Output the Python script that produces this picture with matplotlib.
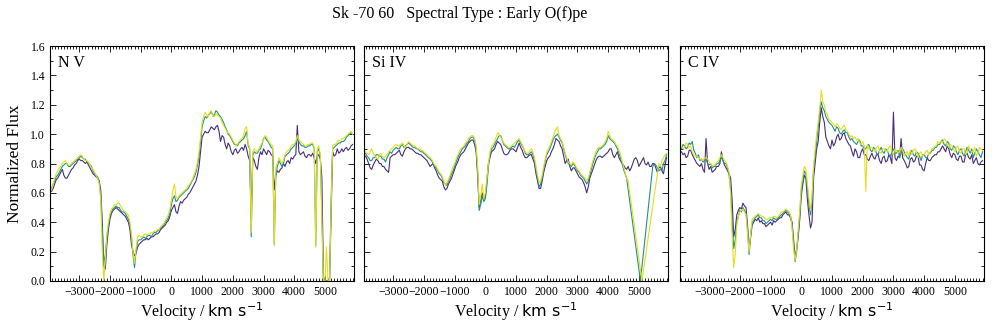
#!/usr/bin/env python3
""" Sk -70 60 UV wind line profiles (N V, Si IV, C IV) in velocity space """
import numpy as np
import matplotlib
matplotlib.use("Agg")
import matplotlib.pyplot as plt
from matplotlib.ticker import MultipleLocator

nan = float("nan")

# velocity grid (km/s), 50 km/s steps, shared by every panel
velocity = list(range(-3900, 5950, 50))

lines = ["N V", "Si IV", "C IV"]
colors = ["#46307c", "#21918c", "#e2df1e"]

# ---- N V ----
nv_purple = [
    .61, .63, .66, .69, .70, .72, .74, .76, .72, .70,
    .70, .72, .74, .76, .77, .79, .80, .82, .83, .82,
    .82, .81, .80, .81, .79, .77, .75, .73, .72, .71,
    .70, .68, .62, .40, .10, .08, .25, .35, .42, .46,
    .48, .49, .50, .49, .48, .47, .46, .45, .44, .42,
    .40, .35, .25, .20, .17, .19, .23, .25, .26, .27,
    .28, .28, .29, .28, .29, .30, .30, .31, .32, .32,
    .33, .35, .36, .37, .38, .40, .41, .44, .48, .50,
    .52, .47, .46, .51, .54, .53, .55, .56, .57, .59,
    .60, .62, .64, .66, .68, .72, .78, .88, .98, 1.00,
    1.02, 1.01, 1.01, 1.03, 1.05, 1.04, 1.03, 1.05, 1.06, 1.02,
    .95, .99, .98, .93, .90, .94, .92, .88, .86, .89,
    .90, .87, .88, .90, .91, .89, .93, .90, .85, .82,
    .45, .84, .82, .78, .76, .84, .88, .86, .90, .88,
    .86, .89, .88, .86, .85, .62, .72, .75, .74, .76,
    .77, .80, .78, .81, .82, .80, .84, .83, .85, .86,
    1.06, .88, .86, .87, .88, .85, .84, .86, .86, .85,
    .87, .84, .80, .85, .86, .83, .70, .03, .00, .00,
    .00, .00, .45, .88, .85, .86, .90, .87, .88, .90,
    .88, .90, .91, .89, .90, .92, .93]
nv_teal = [
    .63, .66, .68, .71, .72, .74, .76, .78, .79, .80,
    .80, .78, .78, .79, .80, .81, .82, .83, .84, .85,
    .84, .83, .83, .81, .80, .79, .78, .75, .73, .72,
    .71, .68, .58, .35, .12, .18, .30, .38, .44, .47,
    .49, .50, .51, .50, .50, .48, .47, .47, .46, .44,
    .42, .38, .30, .18, .09, .20, .27, .28, .28, .29,
    .30, .29, .30, .31, .31, .30, .32, .33, .33, .34,
    .35, .36, .37, .38, .40, .41, .43, .46, .52, .56,
    .58, .54, .55, .57, .58, .59, .60, .61, .62, .63,
    .65, .67, .69, .71, .74, .79, .85, .95, 1.05, 1.09,
    1.12, 1.11, 1.13, 1.14, 1.15, 1.13, 1.13, 1.16, 1.15, 1.13,
    1.12, 1.10, 1.08, 1.05, 1.03, 1.00, .99, .97, .95, .93,
    .93, .92, .94, .95, .96, .97, .99, 1.02, .92, .90,
    .30, .86, .88, .87, .87, .89, .90, .93, .97, .98,
    .96, .95, .93, .91, .90, .25, .72, .78, .82, .80,
    .78, .80, .85, .86, .87, .88, .90, .91, .92, .94,
    .97, .95, .93, .92, .92, .91, .91, .92, .92, .93,
    .93, .90, .24, .88, .90, .85, .45, .00, .00, .00,
    .00, .02, .55, .90, .91, .92, .93, .94, .94, .95,
    .95, .96, .98, .99, 1.00, 1.01, 1.00]
nv_yellow = [
    .62, .66, .70, .73, .75, .77, .78, .80, .81, .82,
    .80, .79, .79, .80, .81, .82, .83, .84, .85, .86,
    .85, .83, .82, .82, .81, .79, .77, .76, .74, .72,
    .70, .66, .55, .20, .00, .15, .32, .40, .46, .49,
    .50, .52, .52, .53, .53, .51, .49, .48, .47, .46,
    .45, .40, .32, .20, .12, .22, .30, .31, .30, .30,
    .31, .32, .31, .32, .32, .33, .33, .34, .34, .35,
    .35, .37, .38, .39, .41, .43, .45, .49, .55, .62,
    .66, .57, .56, .58, .59, .60, .61, .62, .63, .65,
    .66, .68, .70, .73, .76, .81, .88, .98, 1.08, 1.12,
    1.15, 1.13, 1.12, 1.15, 1.16, 1.12, 1.12, 1.14, 1.13, 1.12,
    1.11, 1.08, 1.06, 1.04, 1.02, 1.01, 1.00, .98, .96, .94,
    .92, .93, .95, .96, .97, .99, 1.04, 1.05, .93, .91,
    .33, .88, .90, .89, .88, .90, .92, .94, .96, .99,
    .98, .96, .94, .93, .92, .24, .78, .80, .84, .82,
    .80, .82, .86, .88, .89, .90, .92, .93, .93, .95,
    .99, .96, .95, .94, .93, .92, .92, .93, .93, .94,
    .94, .91, .23, .90, .92, .86, .40, .00, .00, .23,
    .00, .00, .50, .92, .93, .93, .95, .96, .95, .97,
    .97, .98, .99, 1.00, 1.01, 1.02, 1.00]

# ---- Si IV ---- (nan = no data, the line jumps across the gap)
siiv_purple = [
    .85, .83, .80, .77, .76, .79, .81, .83, .82, .80,
    .80, .78, .78, .76, .75, .74, .84, .85, .86, .86,
    .87, .88, .89, .86, .85, .88, .90, .91, .91, .90,
    .90, .89, .88, .87, .87, .86, .86, .85, .84, .83,
    .82, .80, .78, .79, .80, .77, .75, .72, .70, .69,
    .68, .64, .62, .63, .66, .68, .70, .73, .76, .79,
    .81, .84, .86, .87, .88, .90, .92, .94, .95, .96,
    .96, .93, .88, .72, .50, .55, .60, .56, .57, .68,
    .80, .84, .88, .89, .90, .93, .95, .94, .93, .90,
    .87, .86, .86, .87, .89, .90, .90, .89, .88, .91,
    .94, .91, .89, .86, .84, .84, .85, .86, .86, .83,
    .80, .73, .68, .63, .63, .68, .74, .78, .82, .84,
    .85, .88, .90, .93, .97, .96, .95, .92, .90, .85,
    .80, .82, .83, .78, .75, .77, .77, .75, .73, .71,
    .70, .69, .67, .64, .60, .64, .70, .73, .76, .79,
    .82, .84, .85, .85, .84, .85, .86, .87, .88, .90,
    .90, .86, .84, .86, .88, .84, .82, .80, .79, .77,
    .76, .78, .75, .77, .80, .83, .84, .82, .78, .80,
    .82, .84, .80, .79, .81, .78, .78, .80, .80, .77,
    .74, .77, .78, .75, .73, .79, .84]
siiv_teal = [
    .87, .85, .84, .82, .82, .84, .84, .86, .86, .85,
    .85, .83, .83, .81, .84, .86, .88, .87, .89, .90,
    .91, .90, .90, .92, .93, .91, .92, .93, .94, .93,
    .92, .91, .91, .90, .90, .89, .88, .88, .87, .86,
    .85, .84, .83, .82, .80, .78, .77, .75, .73, .72,
    .70, .67, .66, .65, .68, .70, .73, .75, .78, .81,
    .84, .86, .88, .90, .91, .92, .94, .95, .97, .98,
    .98, .96, .90, .75, .48, .52, .58, .54, .56, .65,
    .78, .85, .90, .91, .93, .95, .97, .99, .99, .96,
    .93, .92, .91, .90, .90, .91, .92, .91, .93, .95,
    .96, .94, .92, .90, .87, .86, .86, .87, .88, .86,
    .82, .76, .70, .64, .66, .70, .76, .82, .86, .88,
    .90, .93, .96, .98, .99, 1.00, .98, .96, .94, .90,
    .86, .83, .80, .79, .78, .80, .79, .77, .75, .74,
    .72, .71, .70, .68, .66, .68, .72, .76, .80, .83,
    .86, .88, .90, .90, .91, .92, .93, .95, .99, .97,
    .96, .95, .94, .92, .90, .87, .84, .80, .76, .73,
    .70, nan, nan, nan, nan, nan, nan, nan, nan, .00,
    nan, nan, nan, nan, nan, nan, nan, .78, .80, .79,
    .77, .75, .76, .75, .80, .82, .86]
siiv_yellow = [
    .88, .87, .86, .88, .90, .87, .85, .84, .83, .86,
    .87, .85, .84, .85, .86, .88, .89, .90, .91, .92,
    .93, .92, .92, .93, .94, .92, .91, .93, .95, .94,
    .93, .92, .92, .91, .90, .90, .89, .89, .88, .87,
    .86, .85, .84, .83, .81, .79, .78, .76, .74, .73,
    .71, .68, .65, .67, .69, .72, .75, .78, .80, .83,
    .86, .88, .90, .91, .92, .94, .95, .97, .98, .99,
    .99, .97, .92, .78, .52, .58, .66, .56, .60, .70,
    .80, .88, .92, .93, .95, .98, 1.01, 1.00, .98, .96,
    .94, .93, .92, .91, .91, .92, .93, .94, .95, .96,
    .97, .95, .93, .90, .88, .87, .87, .89, .90, .88,
    .84, .78, .72, .67, .68, .72, .78, .83, .88, .90,
    .92, .95, .98, 1.01, 1.03, 1.05, .99, .97, .95, .91,
    .87, .84, .81, .80, .79, .81, .80, .78, .76, .75,
    .73, .72, .71, .70, .68, .70, .74, .78, .82, .85,
    .88, .90, .91, .91, .92, .93, .95, .97, 1.02, .99,
    .97, .96, .95, .93, .92, .89, .86, .82, .78, .74,
    .70, .68, nan, nan, nan, nan, nan, nan, nan, nan,
    .00, nan, nan, nan, nan, nan, nan, nan, nan, nan,
    nan, .80, .78, .82, .84, .86, .87]

# ---- C IV ----
civ_purple = [
    .88, .86, .87, .84, .85, .89, .89, .86, .84, .82,
    .80, .79, .78, .80, .76, .74, .97, .80, .76, .78,
    .74, .75, .76, .78, .78, .80, .88, .82, .79, .77,
    .75, .73, .70, .55, .30, .35, .45, .48, .50, .49,
    .53, .51, .50, .38, .22, .30, .38, .40, .42, .41,
    .43, .40, .41, .39, .39, .37, .38, .39, .40, .38,
    .41, .40, .41, .42, .43, .43, .45, .46, .47, .45,
    .45, .43, .40, .28, .16, .22, .30, .42, .58, .66,
    .72, .70, .55, .45, .36, .40, .70, .80, .90, .95,
    1.08, 1.18, 1.12, 1.08, .98, .95, .92, .90, .96, .92,
    .94, .98, 1.00, .96, .97, 1.00, 1.01, .97, .95, .93,
    .92, .88, .85, .90, .88, .84, .84, .88, .90, .86,
    .86, .83, .82, .85, .87, .84, .83, .86, .86, .82,
    .80, .84, .85, .81, .82, .86, .84, .80, 1.15, .84,
    .82, .85, .84, .97, .84, .82, .80, .77, .78, .83,
    .84, .81, .82, .85, .85, .79, .79, .76, .75, .80,
    .84, .82, .82, .84, .85, .86, .86, .88, .88, .90,
    .92, .90, .88, .92, .90, .86, .84, .87, .86, .83,
    .82, .85, .85, .81, .81, .86, .87, .84, .83, .86,
    .80, .82, .84, .80, .79, .81, .82]
civ_teal = [
    .90, .93, .92, .90, .91, .94, .93, .95, .89, .87,
    .84, .86, .82, .83, .81, .82, .83, .80, .79, .80,
    .77, .78, .78, .80, .80, .82, .84, .82, .80, .80,
    .77, .72, .62, .40, .22, .28, .40, .44, .48, .47,
    .50, .48, .46, .35, .18, .30, .40, .41, .43, .44,
    .45, .43, .43, .41, .41, .39, .40, .41, .42, .41,
    .43, .42, .42, .43, .44, .45, .46, .47, .48, .47,
    .46, .44, .38, .25, .13, .20, .32, .45, .62, .68,
    .75, .73, .62, .52, .45, .55, .76, .85, .95, 1.05,
    1.15, 1.22, 1.18, 1.16, 1.12, 1.10, 1.08, 1.07, 1.06, 1.04,
    1.02, 1.05, 1.04, 1.01, 1.00, 1.02, 1.03, 1.01, 1.01, .98,
    .96, .97, .95, .94, .93, .95, .96, .92, .92, .90,
    .90, .92, .93, .89, .88, .91, .90, .87, .86, .89,
    .91, .88, .87, .90, .89, .86, .85, .88, .90, .87,
    .87, .89, .84, .87, .90, .88, .86, .84, .83, .87,
    .89, .86, .85, .88, .87, .85, .82, .86, .86, .84,
    .84, .87, .87, .89, .89, .91, .91, .93, .93, .95,
    .96, .93, .92, .95, .94, .90, .89, .92, .91, .88,
    .86, .89, .90, .87, .85, .88, .91, .89, .87, .90,
    .84, .87, .90, .88, .86, .84, .88]
civ_yellow = [
    .92, .90, .91, .94, .93, .91, .92, .88, .86, .85,
    .85, .84, .83, .83, .82, .84, .84, .83, .81, .80,
    .78, .79, .79, .81, .82, .84, .86, .84, .82, .81,
    .78, .74, .58, .30, .09, .18, .38, .44, .47, .48,
    .49, .47, .45, .32, .20, .32, .42, .43, .44, .45,
    .46, .45, .44, .44, .43, .42, .42, .43, .43, .43,
    .44, .44, .43, .44, .45, .47, .47, .48, .49, .48,
    .47, .45, .36, .22, .14, .22, .35, .48, .65, .72,
    .78, .76, .66, .56, .48, .58, .78, .90, 1.00, 1.08,
    1.18, 1.30, 1.22, 1.20, 1.15, 1.13, 1.10, 1.09, 1.08, 1.07,
    1.05, 1.07, 1.06, 1.04, 1.03, 1.05, 1.06, 1.03, 1.02, 1.00,
    .98, .99, .97, .98, .96, .97, .94, .93, .95, .92,
    .61, .93, .90, .91, .91, .89, .88, .91, .92, .88,
    .87, .90, .90, .89, .88, .91, .92, .88, .86, .90,
    .89, .87, .88, .91, .89, .85, .87, .88, .85, .89,
    .86, .89, .90, .88, .84, .87, .88, .85, .86, .88,
    .89, .86, .88, .90, .90, .92, .92, .95, .94, .95,
    .94, .97, .96, .93, .91, .93, .92, .90, .88, .91,
    .92, .88, .87, .90, .90, .86, .88, .92, .89, .88,
    .88, .91, .85, .87, .91, .90, .89]

fluxes = [[nv_purple, nv_teal, nv_yellow],
          [siiv_purple, siiv_teal, siiv_yellow],
          [civ_purple, civ_teal, civ_yellow]]

serif = "Liberation Serif"
plt.rcParams["mathtext.fontset"] = "dejavusans"

fig = plt.figure(figsize=(9.97, 3.32), dpi=100)
lefts = [0.0502, 0.3651, 0.6820]
v = np.array(velocity)

for k, name in enumerate(lines):
    ax = fig.add_axes([lefts[k], 0.154, 0.305, 0.707])
    for flux, col in zip(fluxes[k], colors):
        f = np.array(flux, dtype=float)
        ok = ~np.isnan(f)   # gaps in the data are bridged by a straight line
        ax.plot(v[ok], f[ok], color=col, lw=0.8)
    ax.set_xlim(-3950, 5950)
    ax.set_ylim(0, 1.6)
    ax.xaxis.set_major_locator(MultipleLocator(1000))
    ax.xaxis.set_minor_locator(MultipleLocator(100))
    ax.yaxis.set_major_locator(MultipleLocator(0.2))
    ax.yaxis.set_minor_locator(MultipleLocator(0.1))
    ax.tick_params(which="both", direction="in", top=True, right=True,
                   labelsize=8.5, width=0.6)
    ax.tick_params(which="major", length=4.5)
    ax.tick_params(which="minor", length=2.2)
    for lab in ax.get_xticklabels() + ax.get_yticklabels():
        lab.set_fontfamily(serif)
    if k > 0:
        ax.set_yticklabels([])
    else:
        ax.set_ylabel("Normalized Flux", family=serif, fontsize=12.5,
                      labelpad=5)
    ax.set_xlabel(r"Velocity / $\mathrm{km\ s^{-1}}$", family=serif,
                  fontsize=11.5, labelpad=2)
    ax.text(0.025, 0.93, name, transform=ax.transAxes, family=serif,
            fontsize=11.5, va="center", ha="left")

fig.suptitle("Sk -70 60   Spectral Type : Early O(f)pe", family=serif,
             fontsize=11.5, x=0.461, y=0.958, va="center")
fig.savefig("out.png", dpi=100)
